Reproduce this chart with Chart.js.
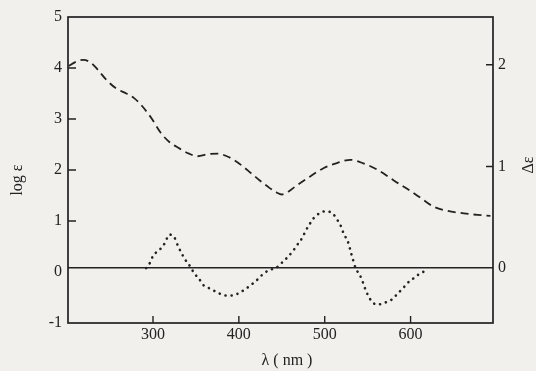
<!DOCTYPE html>
<html>
<head>
<meta charset="utf-8">
<script src="https://cdn.jsdelivr.net/npm/chart.js@4"></script>
<style>
  html, body { margin: 0; padding: 0; background: #f1f0ed; }
  #wrap { width: 536px; height: 371px; }
</style>
</head>
<body>
<div id="wrap"><canvas id="myChart" width="536" height="371"></canvas></div>
<script>
let myChart = document.getElementById('myChart').getContext('2d');

//Data
// absorption curve (dashed, log e, left axis)
const absWave = [202, 210, 219, 228, 236, 245, 257, 269, 278, 288, 298, 309, 319, 330, 342, 352, 364, 376, 386, 394, 404, 414, 424, 434, 444, 450, 458, 466, 480, 499, 515, 530, 545, 562, 580, 596, 612, 627, 643, 662, 678, 693];
const absLogE = [4.04, 4.12, 4.16, 4.1, 3.96, 3.78, 3.6, 3.5, 3.41, 3.24, 3.02, 2.73, 2.55, 2.43, 2.32, 2.27, 2.31, 2.32, 2.27, 2.2, 2.08, 1.94, 1.8, 1.67, 1.56, 1.52, 1.58, 1.68, 1.84, 2.04, 2.14, 2.2, 2.13, 2.0, 1.8, 1.63, 1.45, 1.28, 1.2, 1.15, 1.12, 1.1];
// CD curve (dotted, delta e, right axis)
const cdWave = [292, 297, 300, 306, 312, 315, 319, 325, 329, 333, 337, 343, 348, 354, 359, 366, 375, 384, 392, 399, 407, 415, 422, 428, 435, 443, 451, 457, 464, 469, 474, 478, 483, 487, 494, 502, 510, 515, 519, 522, 527, 531, 536, 541, 544, 547, 550, 555, 561, 570, 578, 585, 591, 596, 602, 608, 614, 621];
const cdDelta = [0, 0.06, 0.12, 0.17, 0.22, 0.27, 0.33, 0.3, 0.22, 0.15, 0.09, 0.02, -0.05, -0.11, -0.17, -0.2, -0.24, -0.27, -0.27, -0.25, -0.21, -0.16, -0.11, -0.06, -0.02, 0, 0.06, 0.11, 0.18, 0.24, 0.3, 0.37, 0.44, 0.49, 0.54, 0.56, 0.53, 0.47, 0.41, 0.34, 0.26, 0.14, 0, -0.07, -0.13, -0.2, -0.26, -0.33, -0.36, -0.34, -0.31, -0.25, -0.2, -0.15, -0.11, -0.07, -0.04, -0.01];

const xTicks = [300, 400, 500, 600];
const leftTicks = [-1, 0, 1, 2, 3, 4, 5];
const rightTicks = [0, 1, 2];

const ink = '#222222';
const serif = "'Liberation Serif', 'DejaVu Serif', serif";

//inward ticks, frame and axis titles
const paperPlugin = {
  id: 'paper',
  beforeDraw(chart) {
    const c = chart.ctx;
    c.save();
    c.fillStyle = '#f1f0ed';
    c.fillRect(0, 0, chart.width, chart.height);
    c.restore();
  },
  afterDraw(chart) {
    const c = chart.ctx;
    const a = chart.chartArea;
    const sx = chart.scales.x, sy = chart.scales.y, sy2 = chart.scales.y2;
    c.save();
    c.strokeStyle = ink;
    c.lineWidth = 1.7;
    c.strokeRect(a.left, a.top, a.right - a.left, a.bottom - a.top);
    c.lineWidth = 1.4;
    c.beginPath();
    xTicks.forEach(v => {
      const px = sx.getPixelForValue(v);
      c.moveTo(px, a.bottom);
      c.lineTo(px, a.bottom - 7);
    });
    [1, 2, 3, 4].forEach(v => {
      const py = sy.getPixelForValue(v);
      c.moveTo(a.left, py);
      c.lineTo(a.left + 8, py);
    });
    [1, 2].forEach(v => {
      const py = sy2.getPixelForValue(v);
      c.moveTo(a.right, py);
      c.lineTo(a.right - 7, py);
    });
    c.stroke();

    c.fillStyle = ink;
    c.font = '16px ' + serif;
    c.textAlign = 'center';
    c.textBaseline = 'middle';
    c.fillText('\u03bb ( nm )', 287, 361);
    c.save();
    c.translate(18, 180);
    c.rotate(-Math.PI / 2);
    c.fillText('log \u03b5', 0, 0);
    c.restore();
    c.save();
    c.translate(529, 165);
    c.rotate(-Math.PI / 2);
    c.fillText('\u0394\u03b5', 0, 0);
    c.restore();
    c.restore();
  }
};

let spectraChart = new Chart(myChart, {
  type: 'line',
  data: {
    datasets: [{
      label: 'log e',
      data: absWave.map((w, i) => ({ x: w, y: absLogE[i] })),
      yAxisID: 'y',
      borderColor: ink,
      borderWidth: 1.8,
      borderDash: [8, 5],
      pointRadius: 0,
      cubicInterpolationMode: 'monotone',
      fill: false
    }, {
      label: 'delta e',
      data: cdWave.map((w, i) => ({ x: w, y: cdDelta[i] })),
      yAxisID: 'y2',
      borderColor: ink,
      borderWidth: 2.6,
      borderDash: [0.1, 6],
      borderCapStyle: 'round',
      pointRadius: 0,
      cubicInterpolationMode: 'monotone',
      fill: false
    }]
  },
  options: {
    responsive: false,
    animation: false,
    layout: { padding: { top: 17, left: 0, right: 0, bottom: 0 } },
    plugins: {
      legend: { display: false },
      tooltip: { enabled: false }
    },
    scales: {
      x: {
        type: 'linear',
        min: 201,
        max: 696,
        afterBuildTicks: s => { s.ticks = xTicks.map(v => ({ value: v })); },
        afterFit: s => { s.height = 48; },
        grid: { display: false, drawTicks: false },
        border: { display: false },
        ticks: { color: ink, font: { family: serif, size: 16 }, padding: 2 }
      },
      y: {
        position: 'left',
        min: -1,
        max: 5,
        afterBuildTicks: s => { s.ticks = leftTicks.map(v => ({ value: v })); },
        afterFit: s => { s.width = 68; },
        grid: { display: false, drawTicks: false },
        border: { display: false },
        ticks: { color: ink, font: { family: serif, size: 16 }, padding: 6 }
      },
      y2: {
        position: 'right',
        min: -0.54,
        max: 2.47,
        afterBuildTicks: s => { s.ticks = rightTicks.map(v => ({ value: v })); },
        afterFit: s => { s.width = 43; },
        grid: {
          drawTicks: false,
          color: c => (c.tick && c.tick.value === 0) ? ink : 'rgba(0,0,0,0)',
          lineWidth: 1.5
        },
        border: { display: false },
        ticks: { color: ink, font: { family: serif, size: 16 }, padding: 5 }
      }
    }
  },
  plugins: [paperPlugin]
});
</script>
</body>
</html>
